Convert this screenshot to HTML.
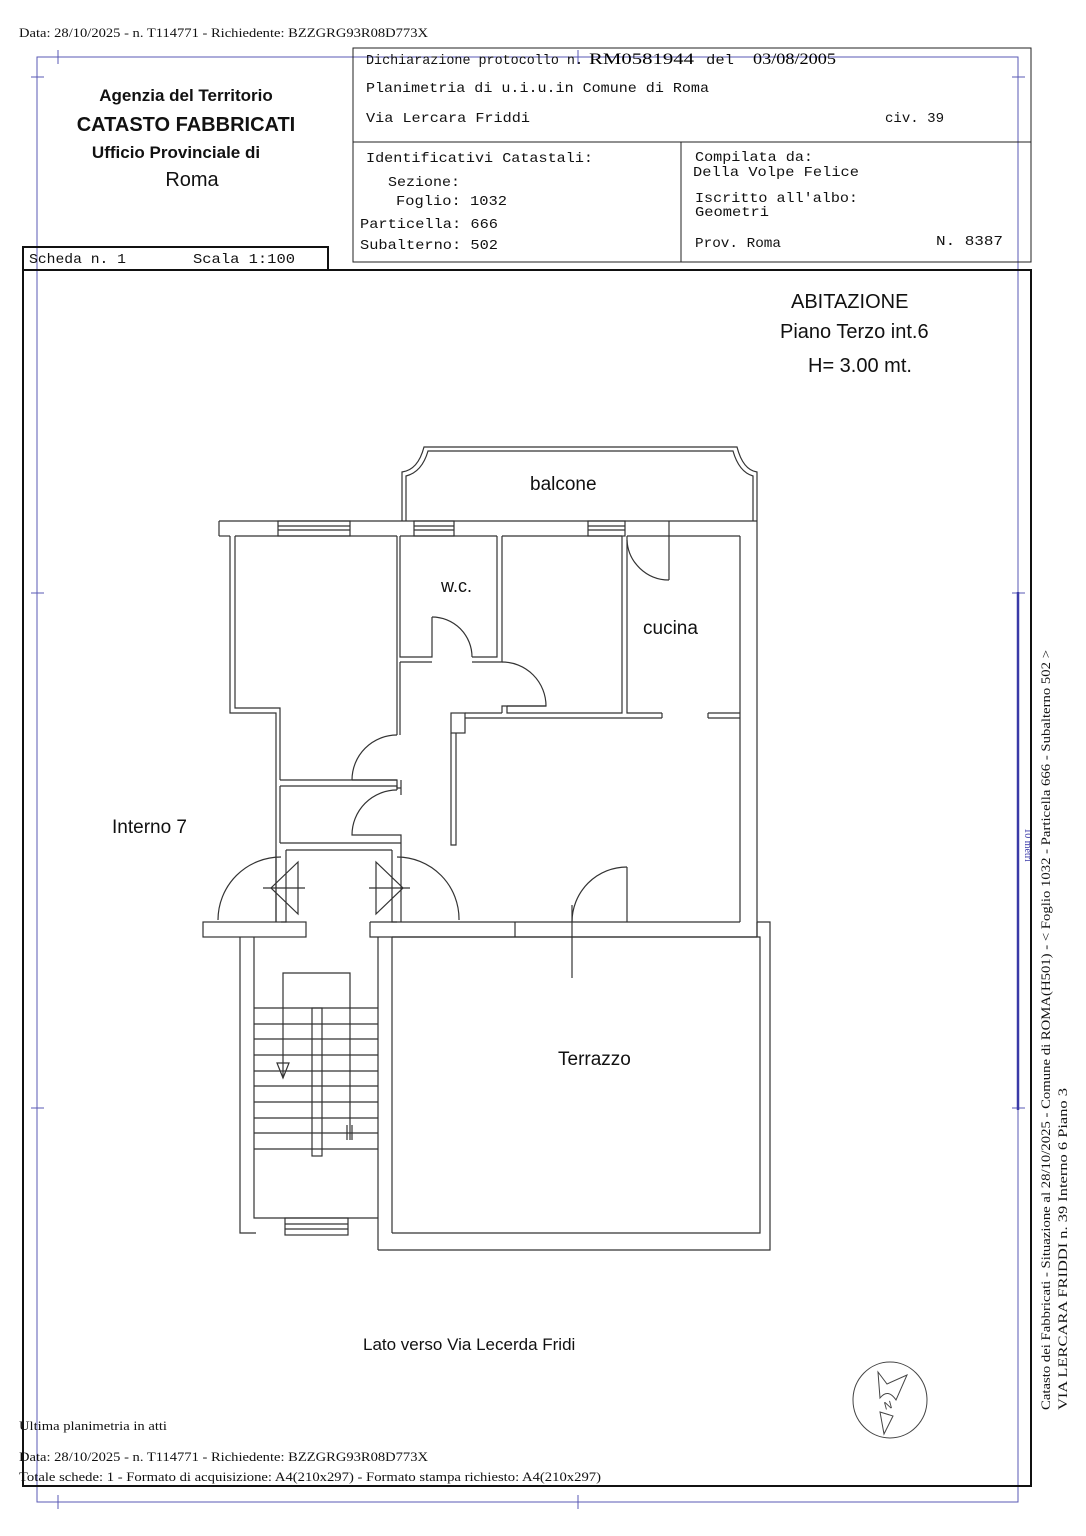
<!DOCTYPE html>
<html><head><meta charset="utf-8"><style>
html,body{margin:0;padding:0;background:#fff;}
svg{display:block;}
.m{font-family:"Liberation Mono",monospace;font-size:14px;fill:#111;}
.s{font-family:"Liberation Serif",serif;font-size:13px;fill:#111;}
.a{font-family:"Liberation Sans",sans-serif;fill:#111;}
</style></head><body>
<svg width="1086" height="1536" viewBox="0 0 1086 1536" xmlns="http://www.w3.org/2000/svg">
<rect width="1086" height="1536" fill="#fff"/>
<g stroke="#5a5ab4" stroke-width="1" fill="none">
<rect x="37" y="57" width="981" height="1445"/>
<line x1="58" y1="50" x2="58" y2="64"/><line x1="578" y1="50" x2="578" y2="64"/>
<line x1="58" y1="1495" x2="58" y2="1509"/><line x1="578" y1="1495" x2="578" y2="1509"/>
<line x1="31" y1="77" x2="44" y2="77"/><line x1="31" y1="593" x2="44" y2="593"/><line x1="31" y1="1108" x2="44" y2="1108"/>
<line x1="1012" y1="77" x2="1025" y2="77"/><line x1="1012" y1="593" x2="1025" y2="593"/><line x1="1012" y1="1108" x2="1025" y2="1108"/>
</g>
<line x1="1018" y1="592" x2="1018" y2="1110" stroke="#3a3aa8" stroke-width="2.5"/>
<text x="0" y="0" transform="translate(1025,845) rotate(90)" font-family="Liberation Serif,serif" font-size="10" fill="#3a3aa8" text-anchor="middle">10 metri</text>

<text class="s" x="19" y="37" textLength="409" lengthAdjust="spacingAndGlyphs">Data: 28/10/2025 - n. T114771 - Richiedente: BZZGRG93R08D773X</text>
<g stroke="#222" stroke-width="1" fill="none">
<rect x="353" y="48" width="678" height="214"/>
<line x1="353" y1="142" x2="1031" y2="142"/>
<line x1="681" y1="142" x2="681" y2="262"/>
</g>
<rect x="23" y="247" width="305" height="23" fill="none" stroke="#111" stroke-width="2"/>
<rect x="23" y="270" width="1008" height="1216" fill="none" stroke="#111" stroke-width="2"/>
<g class="a" font-weight="bold" text-anchor="middle">
<text x="186" y="101" font-size="17">Agenzia del Territorio</text>
<text x="186" y="131" font-size="20">CATASTO FABBRICATI</text>
<text x="176" y="158" font-size="17">Ufficio Provinciale di</text>
</g>
<text class="a" x="192" y="186" font-size="20" text-anchor="middle">Roma</text>
<text class="m" x="366" y="64" textLength="217" lengthAdjust="spacingAndGlyphs">Dichiarazione protocollo n.</text>
<text x="589" y="64" style="font-family:'Liberation Serif',serif;font-size:16px" textLength="105" lengthAdjust="spacingAndGlyphs">RM0581944</text>
<text class="m" x="706" y="64" textLength="28" lengthAdjust="spacingAndGlyphs">del</text>
<text x="753" y="64" style="font-family:'Liberation Serif',serif;font-size:16px" textLength="83" lengthAdjust="spacingAndGlyphs">03/08/2005</text>
<text class="m" x="366" y="92" textLength="343" lengthAdjust="spacingAndGlyphs">Planimetria di u.i.u.in Comune di Roma</text>
<text class="m" x="366" y="122" textLength="164" lengthAdjust="spacingAndGlyphs">Via Lercara Friddi</text>
<text class="m" x="885" y="122" textLength="59" lengthAdjust="spacingAndGlyphs">civ. 39</text>
<text class="m" x="366" y="162" textLength="227" lengthAdjust="spacingAndGlyphs">Identificativi Catastali:</text>
<text class="m" x="388" y="186" textLength="72" lengthAdjust="spacingAndGlyphs">Sezione:</text>
<text class="m" x="396" y="205" textLength="111" lengthAdjust="spacingAndGlyphs">Foglio: 1032</text>
<text class="m" x="360" y="228" textLength="138" lengthAdjust="spacingAndGlyphs">Particella: 666</text>
<text class="m" x="360" y="249" textLength="138" lengthAdjust="spacingAndGlyphs">Subalterno: 502</text>
<text class="m" x="695" y="161" textLength="118" lengthAdjust="spacingAndGlyphs">Compilata da:</text>
<text class="m" x="693" y="176" textLength="166" lengthAdjust="spacingAndGlyphs">Della Volpe Felice</text>
<text class="m" x="695" y="202" textLength="163" lengthAdjust="spacingAndGlyphs">Iscritto all'albo:</text>
<text class="m" x="695" y="216" textLength="74" lengthAdjust="spacingAndGlyphs">Geometri</text>
<text class="m" x="695" y="247" textLength="86" lengthAdjust="spacingAndGlyphs">Prov. Roma</text>
<text class="m" x="936" y="245" textLength="67" lengthAdjust="spacingAndGlyphs">N. 8387</text>
<text class="m" x="29" y="263" textLength="97" lengthAdjust="spacingAndGlyphs">Scheda n. 1</text>
<text class="m" x="193" y="263" textLength="102" lengthAdjust="spacingAndGlyphs">Scala 1:100</text>

<g class="a" font-size="20">
<text x="791" y="308">ABITAZIONE</text>
<text x="780" y="338">Piano Terzo int.6</text>
<text x="808" y="372">H= 3.00 mt.</text>
<text x="530" y="490" font-size="19">balcone</text>
<text x="441" y="592" font-size="18">w.c.</text>
<text x="643" y="634" font-size="19">cucina</text>
<text x="112" y="833" font-size="19">Interno 7</text>
<text x="558" y="1065" font-size="19">Terrazzo</text>
<text x="363" y="1350" font-size="17">Lato verso Via Lecerda Fridi</text>
</g>

<g stroke="#333" stroke-width="1.2" fill="none">
<path d="M402,521 V472 Q418,470 424,447 H737 Q743,470 757,472 V521"/>
<path d="M406,521 V476 Q422,472 428,451 H733 Q739,472 753,476 V521"/>
<line x1="219" y1="521" x2="757" y2="521"/>
<line x1="219" y1="536" x2="230" y2="536"/>
<path d="M219,521 V536"/>
<line x1="235" y1="536" x2="397" y2="536"/>
<line x1="400" y1="536" x2="497" y2="536"/>
<line x1="502" y1="536" x2="622" y2="536"/>
<line x1="627" y1="536" x2="740" y2="536"/>
<rect x="278" y="521" width="72" height="15"/><line x1="278" y1="526" x2="350" y2="526"/><line x1="278" y1="530" x2="350" y2="530"/>
<rect x="414" y="521" width="40" height="15"/><line x1="414" y1="526" x2="454" y2="526"/><line x1="414" y1="530" x2="454" y2="530"/>
<rect x="588" y="521" width="37" height="15"/><line x1="588" y1="526" x2="625" y2="526"/><line x1="588" y1="530" x2="625" y2="530"/>
<path d="M230,536 V713 H276 V922"/>
<path d="M235,536 V708 H280 V780"/>
<line x1="280" y1="786" x2="280" y2="843"/>
<path d="M397,536 V735"/><path d="M400,536 V657 H432 V617"/>
<path d="M400,662 V735"/>
<path d="M432,617 A40,40 0 0 1 472,657"/>
<path d="M472,657 H497 V536"/><path d="M502,536 V662 H497"/>
<path d="M400,662 H432"/><path d="M472,662 H497"/>
<path d="M397,735 A45,45 0 0 0 352,780"/>
<path d="M352,780 H397 V788 H401 V780 M401,788 V795"/>
<path d="M280,780 H397 M280,786 H397 V790"/>
<path d="M397,790 A45,45 0 0 0 352,835 H401 V843"/>
<path d="M280,843 H401 M286,850 H392"/>
<path d="M502,662 A44,44 0 0 1 546,706 H502 V713"/>
<path d="M507,706 H546"/>
<path d="M507,706 V713 H622 V536"/><path d="M627,536 V713 H662"/>
<path d="M465,713 H502"/><path d="M465,718 H662 M708,718 H740"/><path d="M708,713 H740"/>
<line x1="662" y1="713" x2="662" y2="718"/><line x1="708" y1="713" x2="708" y2="718"/>
<rect x="451" y="713" width="14" height="20"/>
<path d="M451,733 V845 H456 V733"/>
<path d="M669,521 V580"/><path d="M627,540 A42,42 0 0 0 669,580"/>
<line x1="740" y1="536" x2="740" y2="922"/>
<line x1="757" y1="521" x2="757" y2="937"/>
<path d="M286,850 V922 H281 M392,850 V922 H397"/>
<path d="M276,922 V850 M401,843 V922"/>
<path d="M281,857 A63,63 0 0 0 218,920"/>
<path d="M397,857 A62,62 0 0 1 459,920"/>
<path d="M298,862 L271,888 L298,914 Z"/><line x1="263" y1="888" x2="305" y2="888"/>
<path d="M376,862 L403,888 L376,914 Z"/><line x1="369" y1="888" x2="410" y2="888"/>
<rect x="203" y="922" width="103" height="15"/>
<path d="M370,922 H740 M370,922 V937 H757 M515,922 V937 M757,922 V937"/>
<path d="M627,867 V922"/><path d="M572,922 A55,55 0 0 1 627,867"/>
<line x1="572" y1="905" x2="572" y2="978"/>
<path d="M240,937 V1233 H256"/>
<path d="M254,937 V1218 H378"/>
<path d="M378,937 V1250"/>
<path d="M392,937 V1233"/>
<rect x="285" y="1218" width="63" height="17"/><line x1="285" y1="1224" x2="348" y2="1224"/><line x1="285" y1="1229" x2="348" y2="1229"/>
<path d="M283,1078 V973 H350 V1140"/>
<path d="M277,1063 H289 L283,1078 Z"/>
<line x1="347" y1="1125" x2="347" y2="1140"/><line x1="352" y1="1125" x2="352" y2="1140"/>
<rect x="312" y="1008" width="10" height="148"/>
<g>
<line x1="254" y1="1008" x2="378" y2="1008"/><line x1="254" y1="1024" x2="378" y2="1024"/>
<line x1="254" y1="1039" x2="378" y2="1039"/><line x1="254" y1="1055" x2="378" y2="1055"/>
<line x1="254" y1="1071" x2="378" y2="1071"/><line x1="254" y1="1086" x2="378" y2="1086"/>
<line x1="254" y1="1102" x2="378" y2="1102"/><line x1="254" y1="1118" x2="378" y2="1118"/>
<line x1="254" y1="1133" x2="378" y2="1133"/><line x1="254" y1="1149" x2="378" y2="1149"/>
</g>
<path d="M392,937 H760 V1233 H392"/>
<path d="M378,1250 H770 V922 H757"/>
</g>

<g stroke="#444" stroke-width="1" fill="none">
<ellipse cx="890" cy="1400" rx="37" ry="38"/>
<path d="M878,1372 L887,1384 L907,1375 L896,1400 Q888,1388 880,1398 Z"/>
<path d="M880,1412 L893,1416 L884,1434 Z"/>
<text x="884" y="1409" font-family="Liberation Sans,sans-serif" font-size="11" fill="#444" stroke="none" transform="rotate(-15 888 1405)">N</text>
</g>

<text class="s" transform="translate(1050,1410) rotate(-90)" textLength="760" lengthAdjust="spacingAndGlyphs">Catasto dei Fabbricati - Situazione al 28/10/2025 - Comune di ROMA(H501) - &lt; Foglio 1032 - Particella 666 - Subalterno 502 &gt;</text>
<text class="s" transform="translate(1067,1410) rotate(-90)" textLength="322" lengthAdjust="spacingAndGlyphs">VIA LERCARA FRIDDI n. 39 Interno 6 Piano 3</text>

<text class="s" x="19" y="1430" textLength="148" lengthAdjust="spacingAndGlyphs">Ultima planimetria in atti</text>
<text class="s" x="19" y="1461" textLength="409" lengthAdjust="spacingAndGlyphs">Data: 28/10/2025 - n. T114771 - Richiedente: BZZGRG93R08D773X</text>
<text class="s" x="19" y="1481" textLength="582" lengthAdjust="spacingAndGlyphs">Totale schede: 1 - Formato di acquisizione: A4(210x297)  - Formato stampa richiesto: A4(210x297)</text>
</svg>
</body></html>
